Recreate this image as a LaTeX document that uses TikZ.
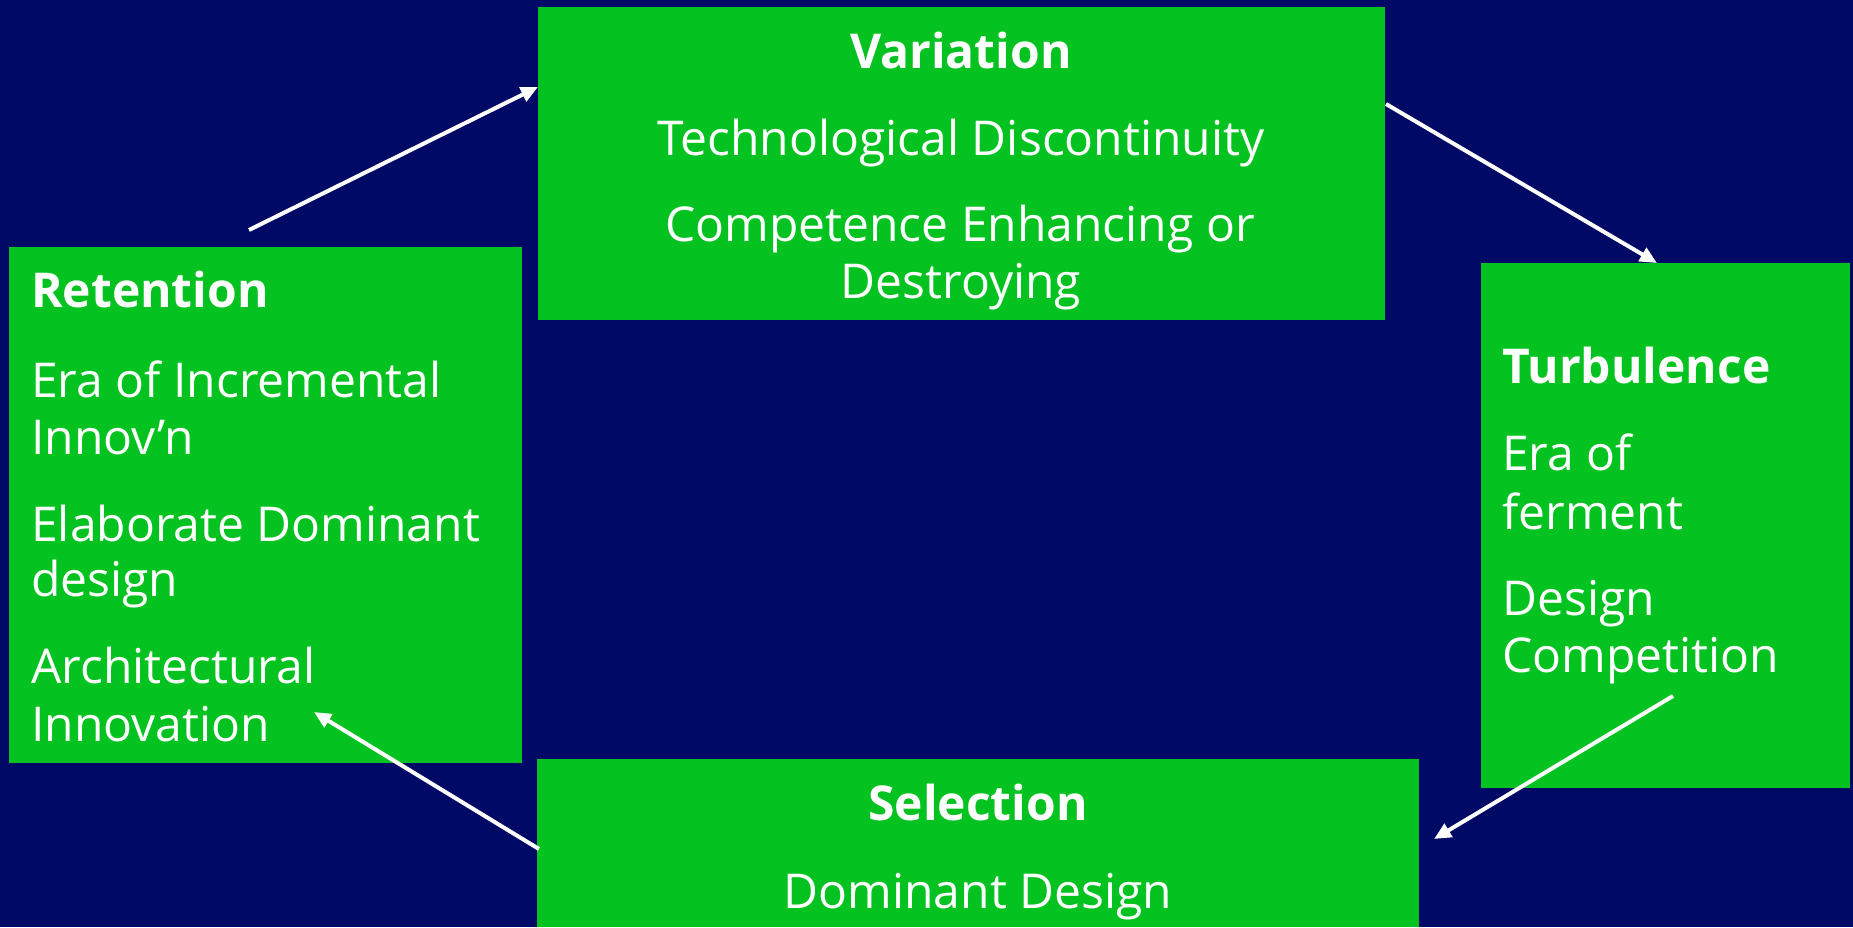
\documentclass[tikz,border=0pt]{standalone}
\usepackage{fontspec}
\setmainfont{Open Sans}
\usetikzlibrary{arrows.meta}
\definecolor{bgblue}{RGB}{0,9,102}
\definecolor{boxgreen}{RGB}{4,194,32}
\newcommand{\bodyfnt}{\fontsize{48}{58}\selectfont}
\newcommand{\titlefnt}{\fontsize{48}{58}\selectfont\bfseries}
\begin{document}
\begin{tikzpicture}[x=1pt,y=-1pt,
  box/.style={fill=boxgreen, draw=none, anchor=north west, inner sep=0pt, outer sep=0pt},
  txt/.style={text=white, inner sep=0pt, font=\bodyfnt},
  ttl/.style={text=white, inner sep=0pt, font=\titlefnt},
  flow/.style={draw=white, line width=4pt, -{Triangle[length=17pt,width=15pt]}}]
\fill[bgblue] (0,0) rectangle (1853,927);
\useasboundingbox (0,0) rectangle (1853,927);
% boxes
\node[box, minimum width=847pt, minimum height=313pt] (var) at (538,7) {};
\node[box, minimum width=513pt, minimum height=516pt] (ret) at (9,247) {};
\node[box, minimum width=369pt, minimum height=525pt] (tur) at (1481,263) {};
\node[box, minimum width=882pt, minimum height=168pt] (sel) at (537,759) {};
% Variation
\node[ttl, anchor=base] (varT) at (961,68) {Variation};
\node[txt, anchor=base] (var1) at (961,155) {Technological Discontinuity};
\node[txt, anchor=base] (var2) at (960,241) {Competence Enhancing or};
\node[txt, anchor=base] (var3) at (961,298) {Destroying};
% Retention
\node[ttl, anchor=base west] (retT) at (31,307) {Retention};
\node[txt, anchor=base west] (ret1) at (31,397) {Era of Incremental};
\node[txt, anchor=base west] (ret2) at (31,454) {Innov’n};
\node[txt, anchor=base west] (ret3) at (31,541) {Elaborate Dominant};
\node[txt, anchor=base west] (ret4) at (31,596) {design};
\node[txt, anchor=base west] (ret5) at (31,683) {Architectural};
\node[txt, anchor=base west] (ret6) at (31,741) {Innovation};
% Turbulence
\node[ttl, anchor=base west] (turT) at (1502,383) {Turbulence};
\node[txt, anchor=base west] (tur1) at (1502,470) {Era of};
\node[txt, anchor=base west] (tur2) at (1502,529) {ferment};
\node[txt, anchor=base west] (tur3) at (1502,615) {Design};
\node[txt, anchor=base west] (tur4) at (1502,672) {Competition};
% Selection
\node[ttl, anchor=base] (selT) at (978,820) {Selection};
\node[txt, anchor=base] (sel1) at (978,908) {Dominant Design};
% connectors
\coordinate (a1s) at (249,230);
\coordinate (a1e) at (538,87);
\coordinate (a2s) at (1386,104);
\coordinate (a2e) at (1657,263);
\coordinate (a3s) at (1673,696);
\coordinate (a3e) at (1434,839);
\coordinate (a4s) at (539,849);
\coordinate (a4e) at (314,712);
\draw[flow] (a1s) -- (a1e);
\draw[flow] (a2s) -- (a2e);
\draw[flow] (a3s) -- (a3e);
\draw[flow] (a4s) -- (a4e);
\end{tikzpicture}
\end{document}
